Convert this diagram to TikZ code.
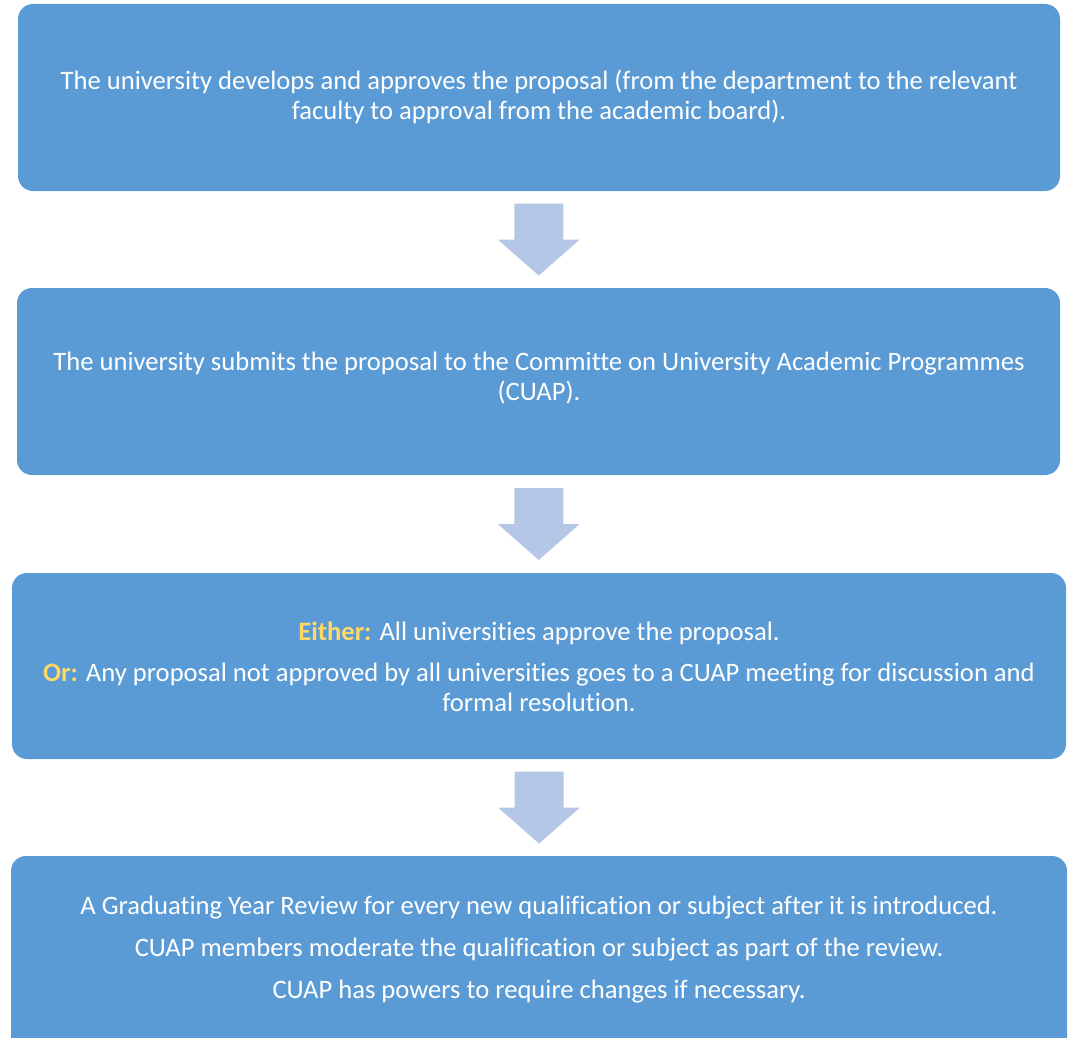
\documentclass[tikz,border=0pt]{standalone}
\usepackage{fontspec}
\setmainfont{Carlito}[Ligatures={NoCommon}]
\usetikzlibrary{calc}
\definecolor{boxblue}{HTML}{5B9BD5}
\definecolor{arrowblue}{HTML}{B4C7E7}
\definecolor{gold}{HTML}{FFD966}
\begin{document}
\begin{tikzpicture}[x=1pt,y=-1pt,
  box/.style={fill=boxblue, draw=none, rounded corners=15pt, inner sep=0pt, outer sep=0pt},
  txt/.style={text=white, align=center, inner sep=0pt, font=\fontsize{26.6}{30}\selectfont},
  arrowfill/.style={fill=arrowblue, draw=none}]
\useasboundingbox (0,0) rectangle (1068,1038);
\clip (0,0) rectangle (1068,1038);
\node[box, minimum width=1042pt, minimum height=187pt] (b1) at (539,97.5) {};
\node[box, minimum width=1043pt, minimum height=187pt] (b2) at (538.5,381.5) {};
\node[box, minimum width=1054pt, minimum height=186pt] (b3) at (539,666) {};
\node[box, minimum width=1056pt, minimum height=200pt] (b4) at (539,956) {};

\node[txt] (t1) at (539,97) {The university develops and approves the proposal (from the department to the relevant\\faculty to approval from the academic board).};
\node[txt] (t2) at (539,378) {The university submits the proposal to the Committe on University Academic Programmes\\(CUAP).};
\node[txt] (t3) at (539,667) {\textcolor{gold}{\textbf{Either:}} All universities approve the proposal.\\[11pt]
\textcolor{gold}{\textbf{Or:}} Any proposal not approved by all universities goes to a CUAP meeting for discussion and\\formal resolution.};
\node[txt] (t4) at (539,950) {A Graduating Year Review for every new qualification or subject after it is introduced.\\[12pt]
CUAP members moderate the qualification or subject as part of the review.\\[12pt]
CUAP has powers to require changes if necessary.};

\coordinate (a1) at ($(b1.south)!0.5!(b2.north)$);
\coordinate (a2) at ($(b2.south)!0.5!(b3.north)$);
\coordinate (a3) at ($(b3.south)!0.5!(b4.north)$);
\foreach \a in {a1,a2,a3}{
  \path[arrowfill] ($(\a)+(-24.5,-36)$) -- ($(\a)+(24.5,-36)$) -- ($(\a)+(24.5,0)$)
    -- ($(\a)+(41,0)$) -- ($(\a)+(0,36)$) -- ($(\a)+(-41,0)$) -- ($(\a)+(-24.5,0)$) -- cycle;
}
\end{tikzpicture}
\end{document}
